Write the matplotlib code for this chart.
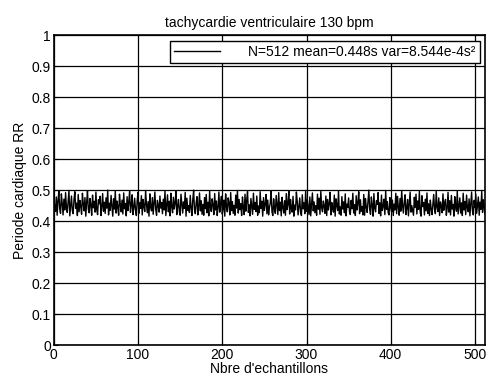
import numpy as np
import matplotlib
matplotlib.use("Agg")
import matplotlib.pyplot as plt

# RR intervals in ms (512 samples)
rr_ms = [
    452, 431, 478, 419, 466, 497, 440, 425, 488, 457, 420, 471, 436, 492, 445, 428,
    463, 499, 417, 450, 481, 434, 424, 470, 495, 441, 458, 418, 486, 430, 467, 447,
    422, 490, 455, 433, 476, 416, 460, 498, 438, 427, 473, 451, 419, 484, 443, 464,
    429, 494, 437, 421, 469, 456, 480, 418, 446, 489, 432, 461, 425, 475, 442, 500,
    420, 458, 435, 483, 449, 416, 472, 439, 497, 426, 465, 444, 419, 487, 453, 430,
    468, 423, 491, 440, 457, 417, 479, 434, 462, 496, 428, 450, 485, 421, 444, 474,
    437, 418, 466, 493, 425, 459, 441, 482, 420, 470, 447, 431, 499, 454, 427, 463,
    416, 488, 445, 433, 476, 422, 456, 494, 438, 419, 467, 451, 429, 481, 442, 460,
    424, 471, 436, 498, 418, 453, 485, 430, 464, 417, 490, 446, 427, 477, 439, 458,
    496, 421, 448, 470, 432, 419, 487, 455, 426, 462, 441, 493, 416, 474, 435, 450,
    428, 483, 443, 418, 469, 500, 437, 424, 459, 479, 420, 448, 491, 433, 466, 422,
    454, 419, 476, 440, 486, 427, 461, 417, 497, 444, 431, 472, 452, 421, 489, 436,
    465, 418, 445, 494, 429, 457, 480, 423, 439, 468, 416, 488, 447, 430, 475, 458,
    420, 492, 434, 463, 425, 451, 419, 484, 442, 499, 426, 470, 437, 456, 418, 478,
    443, 421, 487, 432, 467, 496, 428, 453, 417, 473, 446, 422, 490, 438, 460, 431,
    481, 419, 449, 427, 495, 441, 464, 416, 476, 435, 454, 486, 424, 468, 420, 445,
    458, 498, 430, 418, 472, 439, 425, 483, 450, 421, 492, 434, 461, 417, 477, 444,
    426, 466, 419, 489, 437, 455, 497, 423, 470, 442, 429, 480, 416, 452, 436, 494,
    463, 420, 447, 475, 428, 418, 485, 440, 459, 424, 499, 432, 469, 445, 421, 478,
    417, 456, 491, 433, 462, 427, 450, 419, 487, 438, 474, 422, 496, 443, 430, 465,
    448, 425, 481, 418, 470, 436, 457, 493, 420, 460, 441, 429, 484, 416, 472, 451,
    434, 498, 423, 446, 419, 479, 439, 462, 427, 488, 417, 455, 444, 475, 431, 421,
    467, 440, 490, 426, 453, 418, 482, 436, 458, 495, 424, 469, 432, 447, 420, 486,
    419, 473, 445, 428, 464, 500, 437, 422, 478, 451, 416, 489, 441, 430, 466, 454,
    492, 425, 459, 417, 484, 434, 448, 471, 421, 497, 438, 463, 427, 420, 476, 443,
    430, 468, 418, 455, 436, 490, 424, 480, 446, 419, 473, 432, 499, 452, 426, 461,
    485, 421, 442, 470, 417, 458, 494, 429, 450, 435, 419, 477, 444, 487, 423, 465,
    438, 496, 428, 416, 482, 447, 460, 420, 471, 433, 491, 425, 456, 418, 468, 440,
    421, 453, 486, 437, 424, 498, 445, 431, 475, 418, 462, 449, 427, 488, 435, 457,
    470, 419, 441, 493, 429, 466, 420, 483, 439, 454, 416, 479, 446, 432, 497, 423,
    448, 475, 426, 459, 418, 490, 436, 463, 421, 484, 443, 430, 472, 417, 455, 494,
    433, 420, 467, 444, 487, 425, 451, 478, 419, 461, 438, 496, 428, 469, 446, 422,
]
rr = np.array(rr_ms) / 1000.0
n = np.arange(1, len(rr) + 1)

plt.rcParams["font.family"] = ["Liberation Sans", "DejaVu Sans"]
plt.rcParams["font.size"] = 10

fig = plt.figure(figsize=(4.89, 3.78), dpi=100)
ax = fig.add_axes([0.110, 0.087, 0.882, 0.820])

ax.plot(n, rr, color="black", lw=1.0,
        label="N=512 mean=0.448s var=8.544e-4s\u00b2")

ax.set_xlim(0, 512)
ax.set_ylim(0, 1)
ax.set_xticks(range(0, 501, 100))
yt = np.round(np.arange(0, 1.01, 0.1), 1)
ax.set_yticks(yt)
ax.set_yticklabels(["0"] + [f"{v:g}" for v in yt[1:-1]] + ["1"])
ax.grid(True, color="black", lw=0.9, ls="-")
ax.tick_params(direction="in", length=3, color="black", labelsize=10, pad=2)
for s in ax.spines.values():
    s.set_linewidth(1.2)

ax.set_title("tachycardie ventriculaire 130 bpm", fontsize=10, pad=6)
ax.set_xlabel("Nbre d'echantillons", fontsize=10, labelpad=0)
ax.set_ylabel("Periode cardiaque RR", fontsize=10, labelpad=3)

leg = ax.legend(loc="upper right", fontsize=10, frameon=True, fancybox=False,
                edgecolor="black", framealpha=1, handlelength=3.3,
                borderaxespad=0.4, borderpad=0.3, handletextpad=2.0)
leg.get_frame().set_linewidth(1.0)

fig.savefig("out.png", dpi=100)
